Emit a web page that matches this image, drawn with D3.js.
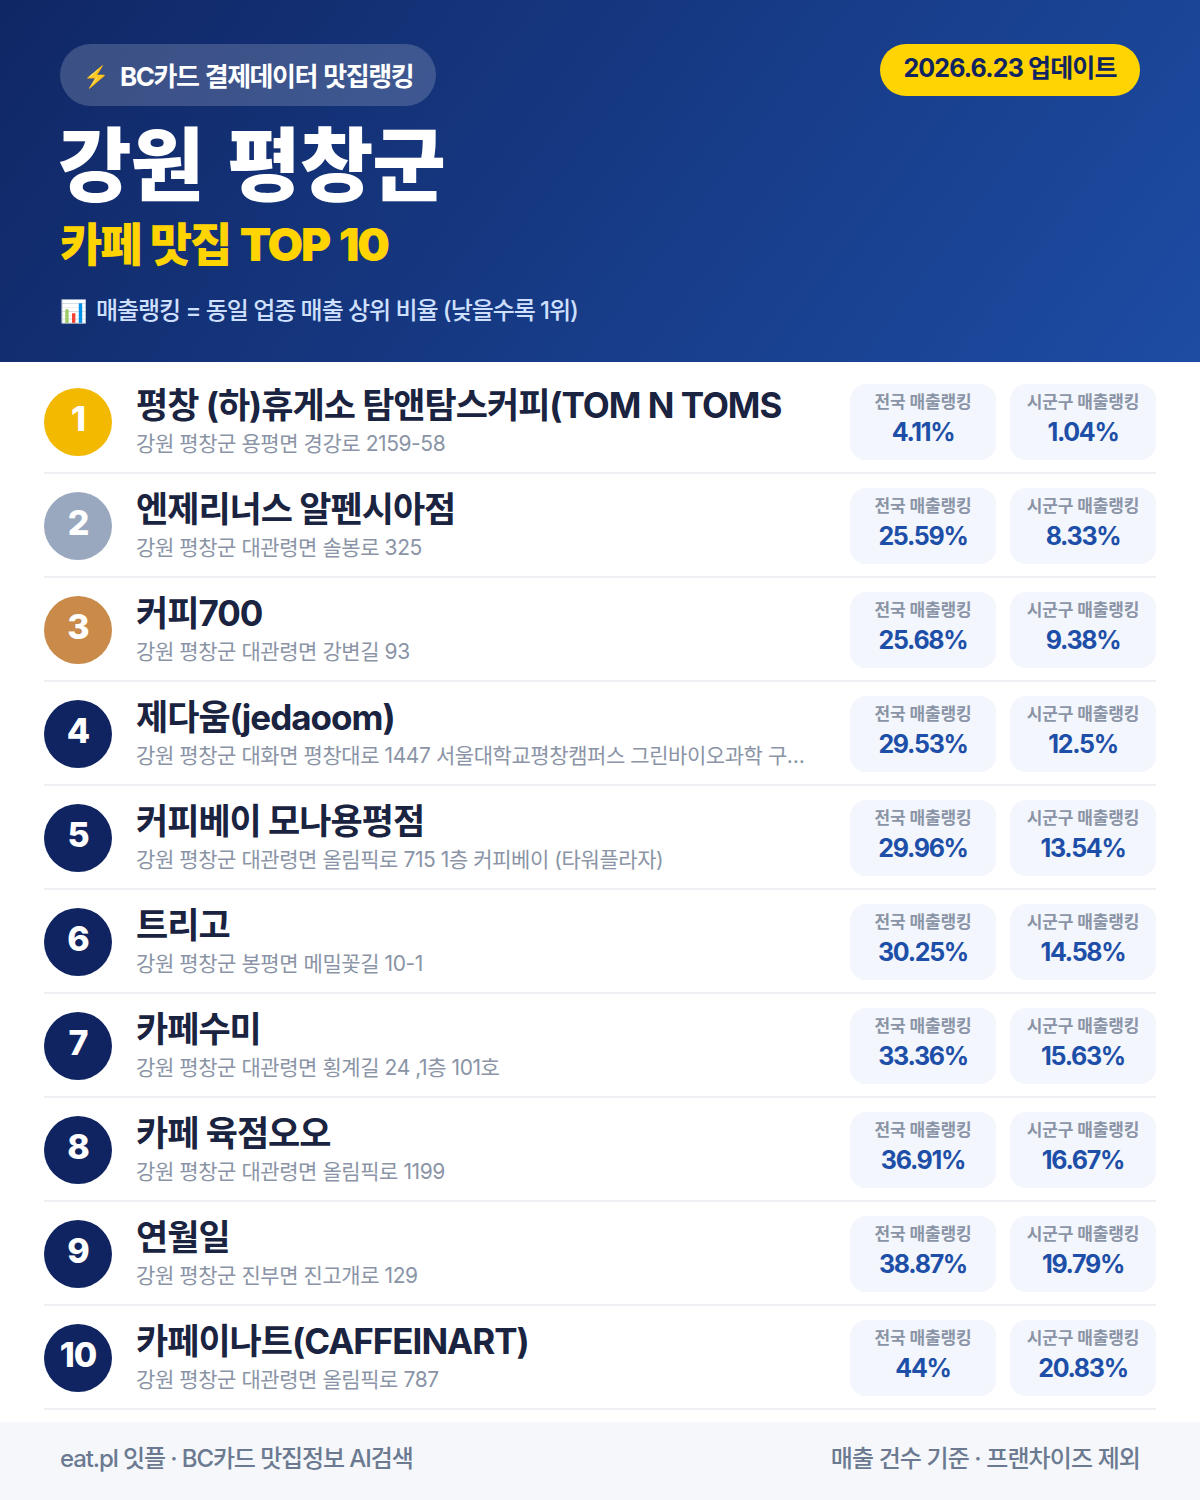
<!DOCTYPE html>
<html lang="ko"><head><meta charset="utf-8">
<script src="https://cdn.jsdelivr.net/npm/d3@7/dist/d3.min.js"></script>
<style>html,body{margin:0;padding:0;background:#fff}svg{display:block}text{font-family:Inter,"Noto Sans CJK KR","Noto Sans",sans-serif}</style>
</head><body><div id="c"></div>
<script>
const ranks=[1,2,3,4,5,6,7,8,9,10];
const names=["평창 (하)휴게소 탐앤탐스커피(TOM N TOMS","엔제리너스 알펜시아점","커피700","제다움(jedaoom)","커피베이 모나용평점","트리고","카페수미","카페 육점오오","연월일","카페이나트(CAFFEINART)"];
const addrs=["강원 평창군 용평면 경강로 2159-58","강원 평창군 대관령면 솔봉로 325","강원 평창군 대관령면 강변길 93","강원 평창군 대화면 평창대로 1447 서울대학교평창캠퍼스 그린바이오과학 구…","강원 평창군 대관령면 올림픽로 715 1층 커피베이 (타워플라자)","강원 평창군 봉평면 메밀꽃길 10-1","강원 평창군 대관령면 횡계길 24 ,1층 101호","강원 평창군 대관령면 올림픽로 1199","강원 평창군 진부면 진고개로 129","강원 평창군 대관령면 올림픽로 787"];
const national=["4.11%","25.59%","25.68%","29.53%","29.96%","30.25%","33.36%","36.91%","38.87%","44%"];
const local=["1.04%","8.33%","9.38%","12.5%","13.54%","14.58%","15.63%","16.67%","19.79%","20.83%"];
const medal=["#f2b900","#9aa8bf","#c98a4a"];
const W=1200,H=1500;
const svg=d3.select("#c").append("svg").attr("width",W).attr("height",H).attr("viewBox",`0 0 ${W} ${H}`);
const defs=svg.append("defs");
const g=defs.append("linearGradient").attr("id","hd").attr("gradientUnits","userSpaceOnUse")
 .attr("x1",60).attr("y1",-230).attr("x2",1140).attr("y2",590);
g.append("stop").attr("offset",0).attr("stop-color","#0f2460");
g.append("stop").attr("offset",1).attr("stop-color","#1e4fa8");
svg.append("rect").attr("width",W).attr("height",362).attr("fill","url(#hd)");
const T=(x,y,s,size,weight,fill,anchor,ls,ws)=>svg.append("text").attr("x",x).attr("y",y).text(s).attr("font-size",size).attr("font-weight",weight).attr("fill",fill).attr("text-anchor",anchor||"start").attr("letter-spacing",ls||0).attr("word-spacing",ws||0);
svg.append("rect").attr("x",60).attr("y",44).attr("width",376).attr("height",62).attr("rx",31).attr("fill","#fff").attr("fill-opacity",.18);
T(83,84,"⚡",21,400,"#ffd000");
T(120,86,"BC카드 결제데이터 맛집랭킹",26,700,"#fff","start",-1.45,1.5);
T(58,194,"강원 평창군",80,900,"#fff","start",-1,9);
T(60,261,"카페 맛집 TOP 10",46,900,"#ffd400","start",-2.15,2.5);
T(60,319,"📊",22,400,"#cfe0ff");
T(96,319,"매출랭킹 = 동일 업종 매출 상위 비율 (낮을수록 1위)",24,500,"#cfe0ff","start",-1.05);
svg.append("rect").attr("x",880).attr("y",44).attr("width",260).attr("height",52).attr("rx",26).attr("fill","#ffd400");
T(1010,77,"2026.6.23 업데이트",25,700,"#0f2460","middle",-.85);
const y=d3.scaleLinear().domain([1,10]).range([370,1306]);
const rows=svg.selectAll("g.row").data(ranks).join("g").attr("class","row").attr("transform",d=>`translate(0,${y(d)})`);
rows.append("line").attr("x1",44).attr("x2",1156).attr("y1",103).attr("y2",103).attr("stroke","#eef0f3").attr("stroke-width",2);
rows.append("circle").attr("cx",78).attr("cy",52).attr("r",34).attr("fill",(d,i)=>medal[i]||"#0f2460");
rows.append("text").attr("x",78).attr("y",61).attr("text-anchor","middle").attr("font-size",34).attr("font-weight",800).attr("fill","#fff").attr("letter-spacing",-1).text(d=>d);
rows.append("text").attr("x",136).attr("y",47.5).attr("font-size",35).attr("font-weight",700).attr("fill","#1a2340").attr("letter-spacing",-1).text((d,i)=>names[i]);
rows.append("text").attr("x",136).attr("y",81).attr("font-size",21).attr("font-weight",400).attr("fill","#8a94a6").attr("letter-spacing",-.43).text((d,i)=>addrs[i]);
[[850,"전국 매출랭킹",national],[1010,"시군구 매출랭킹",local]].forEach(([x,lab,vals])=>{
 rows.append("rect").attr("x",x).attr("y",14).attr("width",146).attr("height",76).attr("rx",16).attr("fill","#f3f6fc");
 rows.append("text").attr("x",x+73).attr("y",37.5).attr("text-anchor","middle").attr("font-size",17).attr("font-weight",700).attr("fill","#8a94a6").attr("letter-spacing",-.15).text(lab);
 rows.append("text").attr("x",x+73).attr("y",71).attr("text-anchor","middle").attr("font-size",25).attr("font-weight",700).attr("fill","#1e4fa8").attr("letter-spacing",-1.3).text((d,i)=>vals[i]);
});
svg.append("rect").attr("y",1422).attr("width",W).attr("height",78).attr("fill","#f5f7fb");
T(60,1467,"eat.pl 잇플 · BC카드 맛집정보 AI검색",24,500,"#6b7a90","start",-1.1);
T(1140,1467,"매출 건수 기준 · 프랜차이즈 제외",24,500,"#6b7a90","end",-.9);
</script></body></html>
